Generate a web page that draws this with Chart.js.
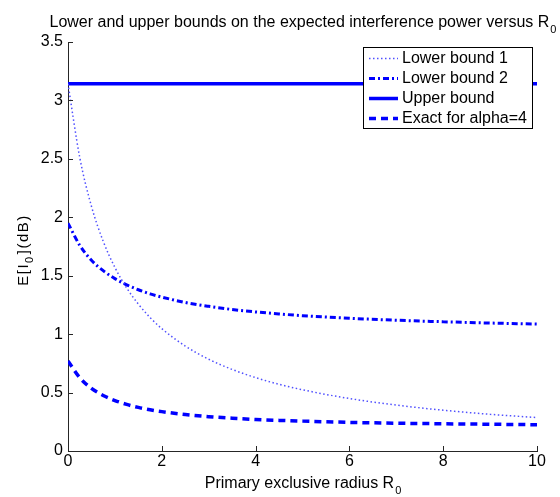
<!DOCTYPE html>
<html>
<head>
<meta charset="utf-8">
<script src="https://cdn.jsdelivr.net/npm/chart.js@4.4.0/dist/chart.umd.min.js"></script>
<style>
  body { margin: 0; background: #fff; }
  #wrap { width: 560px; height: 497px; }
</style>
</head>
<body>
<div id="wrap"><canvas id="boundsChart" width="560" height="497"></canvas></div>
<script>
    // Values
    const radius = [0, 0.25, 0.5, 0.75, 1, 1.25, 1.5, 1.75, 2, 2.5, 3, 3.5, 4, 4.5, 5, 6, 7, 8, 9, 10];
    const lowerBound1 = [3.142, 2.513, 2.094, 1.795, 1.571, 1.396, 1.257, 1.142, 1.047, 0.898, 0.785, 0.698, 0.628, 0.571, 0.524, 0.449, 0.393, 0.349, 0.314, 0.286];
    const lowerBound2 = [1.950, 1.760, 1.633, 1.543, 1.475, 1.422, 1.380, 1.345, 1.317, 1.271, 1.238, 1.211, 1.190, 1.173, 1.158, 1.136, 1.119, 1.106, 1.095, 1.086];
    const exactAlpha4 = [0.770, 0.627, 0.536, 0.475, 0.432, 0.399, 0.373, 0.353, 0.337, 0.312, 0.294, 0.281, 0.270, 0.262, 0.256, 0.245, 0.238, 0.233, 0.229, 0.225];
    const upperBoundX = [0, 10];
    const upperBound = [3.142, 3.142];

    const seriesNames = ["Lower bound 1", "Lower bound 2", "Upper bound", "Exact for alpha=4"];
    const xTicks = [0, 2, 4, 6, 8, 10];
    const xTickLabels = ["0", "2", "4", "6", "8", "10"];
    const yTicks = [0, 0.5, 1, 1.5, 2, 2.5, 3, 3.5];
    const yTickLabels = ["0", "0.5", "1", "1.5", "2", "2.5", "3", "3.5"];

    const fontFamily = "'Liberation Sans', Arial, Helvetica, sans-serif";
    const axisColor = "#262626";
    const blue = "rgb(0, 0, 255)";

    Chart.defaults.font.family = fontFamily;
    Chart.defaults.font.size = 16;
    Chart.defaults.color = "#000";

    function toPoints(xs, ys) {
        return xs.map((x, i) => ({ x: x, y: ys[i] }));
    }

    // draw "main" followed by a subscript, centred on cx
    function drawSubText(ctx, main, sub, cx, baseY) {
        ctx.font = "16px " + fontFamily;
        const w1 = ctx.measureText(main).width;
        ctx.font = "11px " + fontFamily;
        const w2 = ctx.measureText(sub).width;
        const start = cx - (w1 + w2) / 2;
        ctx.textAlign = "left";
        ctx.textBaseline = "alphabetic";
        ctx.font = "16px " + fontFamily;
        ctx.fillText(main, start, baseY);
        ctx.font = "11px " + fontFamily;
        ctx.fillText(sub, start + w1 + 1, baseY + 6);
    }

    // title, axis titles (with subscripts), inward ticks
    const matlabDecor = {
        id: "matlabDecor",
        afterDatasetsDraw(chart) {
            const { ctx, chartArea: a, scales: { x, y } } = chart;
            ctx.save();
            ctx.strokeStyle = axisColor;
            ctx.lineWidth = 1;
            ctx.beginPath();
            xTicks.forEach(v => {
                const px = Math.round(x.getPixelForValue(v)) + 0.5;
                ctx.moveTo(px, a.bottom);
                ctx.lineTo(px, a.bottom - 5);
            });
            yTicks.forEach(v => {
                const py = Math.round(y.getPixelForValue(v)) + 0.5;
                ctx.moveTo(a.left, py);
                ctx.lineTo(a.left + 5, py);
            });
            ctx.stroke();

            ctx.fillStyle = "#000";
            const cx = (a.left + a.right) / 2;
            drawSubText(ctx, "Lower and upper bounds on the expected interference power versus R", "0", cx, 27);
            drawSubText(ctx, "Primary exclusive radius R", "0", cx, 488);

            // y axis title, rotated, slightly spaced out like the original
            ctx.translate(28, 250);
            ctx.rotate(-Math.PI / 2);
            ctx.letterSpacing = "1.5px";
            ctx.font = "15px " + fontFamily;
            const p1 = "E[I", p2 = "](dB)";
            const w1 = ctx.measureText(p1).width;
            const w3 = ctx.measureText(p2).width;
            ctx.font = "11px " + fontFamily;
            const w2 = ctx.measureText("0").width + 1;
            let sx = -(w1 + w2 + w3) / 2;
            ctx.textAlign = "left";
            ctx.textBaseline = "alphabetic";
            ctx.font = "15px " + fontFamily;
            ctx.fillText(p1, sx, 0);
            ctx.font = "11px " + fontFamily;
            ctx.fillText("0", sx + w1, 5);
            ctx.font = "15px " + fontFamily;
            ctx.fillText(p2, sx + w1 + w2, 0);
            ctx.restore();
        },
        afterDraw(chart) {
            // legend box, MATLAB style
            const { ctx } = chart;
            const box = { left: 363, top: 47, right: 532, bottom: 128 };
            ctx.save();
            ctx.fillStyle = "#fff";
            ctx.fillRect(box.left, box.top, box.right - box.left, box.bottom - box.top);
            ctx.strokeStyle = "#000";
            ctx.lineWidth = 1;
            ctx.strokeRect(box.left + 0.5, box.top + 0.5, box.right - box.left, box.bottom - box.top);
            ctx.font = "16px " + fontFamily;
            ctx.textBaseline = "middle";
            ctx.textAlign = "left";
            chart.data.datasets.forEach((ds, i) => {
                const yy = 58.5 + i * 20;
                ctx.beginPath();
                ctx.strokeStyle = ds.borderColor;
                ctx.lineWidth = ds.borderWidth;
                ctx.setLineDash(ds.borderDash || []);
                ctx.moveTo(369, yy);
                ctx.lineTo(398, yy);
                ctx.stroke();
                ctx.setLineDash([]);
                ctx.fillStyle = "#000";
                ctx.fillText(ds.label, 402, yy);
            });
            ctx.restore();
        }
    };

    const boundsChart = new Chart(document.getElementById("boundsChart"), {
        type: "line",
        data: {
            datasets: [
                {
                    label: seriesNames[0],
                    data: toPoints(radius, lowerBound1),
                    borderColor: "rgb(80, 80, 255)",
                    borderWidth: 1.5,
                    borderDash: [1.5, 2.5],
                },
                {
                    label: seriesNames[1],
                    data: toPoints(radius, lowerBound2),
                    borderColor: blue,
                    borderWidth: 3,
                    borderDash: [6, 3, 2, 3],
                },
                {
                    label: seriesNames[2],
                    data: toPoints(upperBoundX, upperBound),
                    borderColor: blue,
                    borderWidth: 3.5,
                },
                {
                    label: seriesNames[3],
                    data: toPoints(radius, exactAlpha4),
                    borderColor: blue,
                    borderWidth: 3.5,
                    borderDash: [7, 5],
                },
            ],
        },
        options: {
            responsive: false,
            animation: false,
            layout: { padding: { left: 0, right: 23, top: 42, bottom: 0 } },
            elements: {
                point: { radius: 0 },
                line: { cubicInterpolationMode: "monotone", fill: false },
            },
            plugins: {
                legend: { display: false },
                title: { display: false },
                tooltip: { enabled: false },
            },
            scales: {
                x: {
                    type: "linear",
                    min: 0,
                    max: 10,
                    afterBuildTicks: s => { s.ticks = xTicks.map(v => ({ value: v })); },
                    afterFit: s => { s.height = 46; },
                    ticks: {
                        color: "#000",
                        padding: 1,
                        maxRotation: 0,
                        callback: (v, i) => xTickLabels[i],
                    },
                    grid: { drawOnChartArea: false, drawTicks: false },
                    border: { display: true, color: axisColor, width: 1 },
                },
                y: {
                    type: "linear",
                    min: 0,
                    max: 3.5,
                    afterBuildTicks: s => { s.ticks = yTicks.map(v => ({ value: v })); },
                    afterFit: s => { s.width = 68; },
                    ticks: {
                        color: "#000",
                        padding: 5,
                        callback: (v, i) => yTickLabels[i],
                    },
                    grid: { drawOnChartArea: false, drawTicks: false },
                    border: { display: true, color: axisColor, width: 1 },
                },
            },
        },
        plugins: [matlabDecor],
    });
</script>
</body>
</html>
